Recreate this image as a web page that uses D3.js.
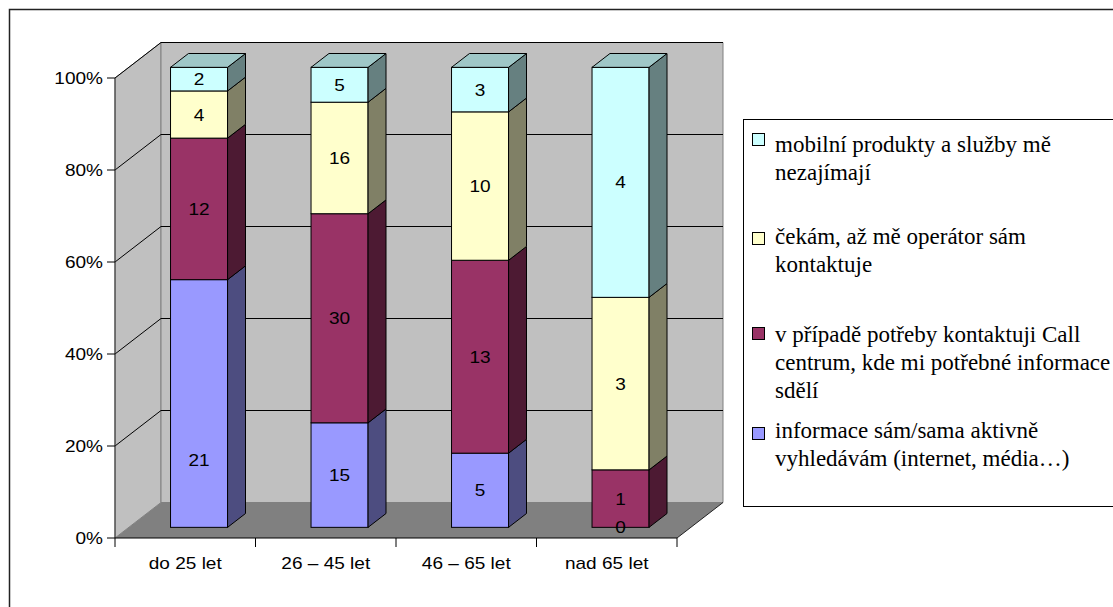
<!DOCTYPE html>
<html>
<head>
<meta charset="utf-8">
<script src="https://cdn.jsdelivr.net/npm/d3@7"></script>
<style>
  html, body { margin: 0; padding: 0; background: #fff; }
  svg { display: block; }
  .sans { font-family: "Liberation Sans", Arial, Helvetica, sans-serif; }
  .serif { font-family: "Times New Roman", "Liberation Serif", "DejaVu Serif", Times, serif; }
</style>
</head>
<body>
<svg id="chart" width="1113" height="607"></svg>
<script>
// Age groups on the category axis
const categories = ["do 25 let", "26 – 45 let", "46 – 65 let", "nad 65 let"];

// Respondent counts per answer, one array per series (stacked bottom to top)
const infoActive    = [21, 15, 5, 0];
const callCentre    = [12, 30, 13, 1];
const waiting       = [4, 16, 10, 3];
const notInterested = [2, 5, 3, 4];

const seriesNames = [
  "informace sám/sama aktivně vyhledávám (internet, média…)",
  "v případě potřeby kontaktuji Call centrum, kde mi potřebné informace sdělí",
  "čekám, až mě operátor sám kontaktuje",
  "mobilní produkty a služby mě nezajímají"
];

// Legend text broken into lines, legend order top to bottom
const legendLines = [
  ["mobilní produkty a služby mě", "nezajímají"],
  ["čekám, až mě operátor sám", "kontaktuje"],
  ["v případě potřeby kontaktuji Call", "centrum, kde mi potřebné informace", "sdělí"],
  ["informace sám/sama aktivně", "vyhledávám (internet, média…)"]
];

const tickValues = [0, 0.2, 0.4, 0.6, 0.8, 1];
const tickLabels = ["0%", "20%", "40%", "60%", "80%", "100%"];

// ---- styling / layout ----
const seriesData = [infoActive, callCentre, waiting, notInterested];
const faceColors = ["#9999FF", "#993366", "#FFFFCC", "#CCFFFF"];
const sideShade = 0.5, topShade = 0.78;
const shade = (c, k) => { const r = d3.rgb(c); return d3.rgb(r.r * k, r.g * k, r.b * k).formatHex(); };

const svg = d3.select("#chart");
const STRETCH = 1.12;

// outer chart frame
svg.append("rect").attr("x", 9.5).attr("y", 9.5).attr("width", 1200).attr("height", 700)
  .attr("fill", "#fff").attr("stroke", "#222").attr("stroke-width", 1.5);

// 3D plot geometry
const DX = 46, DY = -35.5;          // full depth offset of the plot box
const F0 = 0.30, F1 = 0.69;         // bar front / back depth fractions
const x = d3.scaleBand().domain(categories).range([115, 677]).padding(0);
const y = d3.scaleLinear().domain([0, 1]).range([538, 78]);
const barW = x.bandwidth() * 0.406;

const x0 = x.range()[0], x1 = x.range()[1];
const yTop = y(1), yBot = y(0);
const pts = a => a.map(p => p.join(",")).join(" ");

const plot = svg.append("g");

// side wall
plot.append("polygon")
  .attr("points", pts([[x0, yTop], [x0 + DX, yTop + DY], [x0 + DX, yBot + DY], [x0, yBot]]))
  .attr("fill", "#C0C0C0").attr("stroke", "#808080").attr("stroke-width", 1);
// back wall
plot.append("polygon")
  .attr("points", pts([[x0 + DX, yTop + DY], [x1 + DX, yTop + DY], [x1 + DX, yBot + DY], [x0 + DX, yBot + DY]]))
  .attr("fill", "#C0C0C0").attr("stroke", "#808080").attr("stroke-width", 1);
// floor
plot.append("polygon")
  .attr("points", pts([[x0, yBot], [x0 + DX, yBot + DY], [x1 + DX, yBot + DY], [x1, yBot]]))
  .attr("fill", "#808080");
plot.append("line").attr("x1", x1).attr("y1", yBot).attr("x2", x1 + DX).attr("y2", yBot + DY)
  .attr("stroke", "#222").attr("stroke-width", 1);

// gridlines on side and back wall
tickValues.filter(t => t > 0).forEach(t => {
  const yy = y(t);
  plot.append("polyline")
    .attr("points", pts([[x0, yy], [x0 + DX, yy + DY], [x1 + DX, yy + DY]]))
    .attr("fill", "none").attr("stroke", "#000").attr("stroke-width", 1);
});

// value axis
plot.append("line").attr("x1", x0).attr("y1", yTop).attr("x2", x0).attr("y2", yBot)
  .attr("stroke", "#333").attr("stroke-width", 1);
tickValues.forEach((t, i) => {
  plot.append("line").attr("x1", x0 - 8).attr("x2", x0).attr("y1", y(t)).attr("y2", y(t))
    .attr("stroke", "#000");
  plot.append("g").attr("transform", `translate(103,${y(t)}) scale(${STRETCH},1)`)
    .append("text").attr("class", "sans").attr("text-anchor", "end").attr("dy", "0.36em")
    .attr("font-size", 17).attr("fill", "#000")
    .text(tickLabels[i]);
});

// category axis
plot.append("line").attr("x1", x0).attr("x2", x1).attr("y1", yBot).attr("y2", yBot)
  .attr("stroke", "#000");
categories.concat([null]).forEach(c => {
  const xx = c === null ? x1 : x(c);
  plot.append("line").attr("x1", xx).attr("x2", xx).attr("y1", yBot).attr("y2", yBot + 9)
    .attr("stroke", "#000");
});
categories.forEach(c => {
  plot.append("g").attr("transform", `translate(${x(c) + x.bandwidth() / 2},569) scale(${STRETCH},1)`)
    .append("text").attr("class", "sans").attr("text-anchor", "middle")
    .attr("font-size", 17).attr("fill", "#000")
    .text(c);
});

// stacked 100% bars
const rows = categories.map((c, i) => {
  const r = { cat: c };
  seriesData.forEach((s, k) => r["s" + k] = s[i]);
  return r;
});
const keys = seriesData.map((s, k) => "s" + k);
const stacked = d3.stack().keys(keys).offset(d3.stackOffsetExpand)(rows);

const fdx = DX * F0, fdy = DY * F0;
const bdx = DX * (F1 - F0), bdy = DY * (F1 - F0);

// label nudges (category index, series index) -> dy
const labelNudge = { "0-0": 56 };

const bars = plot.append("g");
categories.forEach((c, ci) => {
  const bx = x(c) + x.bandwidth() / 2 - barW / 2 + fdx;
  const g = bars.append("g");
  stacked.forEach((layer, k) => {
    const d = layer[ci];
    const ya = y(d[0]) + fdy, yb = y(d[1]) + fdy;
    if (yb < ya) {
      g.append("rect").attr("x", bx).attr("y", yb).attr("width", barW).attr("height", ya - yb)
        .attr("fill", faceColors[k]).attr("stroke", "#000").attr("stroke-width", 1);
      g.append("polygon")
        .attr("points", pts([[bx + barW, ya], [bx + barW + bdx, ya + bdy], [bx + barW + bdx, yb + bdy], [bx + barW, yb]]))
        .attr("fill", shade(faceColors[k], sideShade)).attr("stroke", "#000").attr("stroke-width", 1)
        .attr("stroke-linejoin", "round");
      if (k === stacked.length - 1 || d[1] >= 1 - 1e-9) {
        g.append("polygon")
          .attr("points", pts([[bx, yb], [bx + bdx, yb + bdy], [bx + barW + bdx, yb + bdy], [bx + barW, yb]]))
          .attr("fill", shade(faceColors[k], topShade)).attr("stroke", "#000").attr("stroke-width", 1)
          .attr("stroke-linejoin", "round");
      }
    }
  });
  // data labels
  stacked.forEach((layer, k) => {
    const d = layer[ci];
    const val = seriesData[k][ci];
    const ya = y(d[0]) + fdy, yb = y(d[1]) + fdy;
    const cy = (ya + yb) / 2 + (labelNudge[ci + "-" + k] || 0);
    g.append("g").attr("transform", `translate(${bx + barW / 2},${cy}) scale(${STRETCH},1)`)
      .append("text").attr("class", "sans").attr("text-anchor", "middle").attr("dy", "0.36em")
      .attr("font-size", 17).attr("fill", "#000")
      .text(val);
  });
});

// legend
const legend = svg.append("g");
legend.append("rect").attr("x", 743.5).attr("y", 119.5).attr("width", 500).attr("height", 387)
  .attr("fill", "#fff").attr("stroke", "#000").attr("stroke-width", 1);
const legendBaselines = [152, 244, 342, 438];
const swatchTops = [133, 232, 327, 427];
const LINE_H = 28;
legendLines.forEach((lines, i) => {
  const k = seriesData.length - 1 - i;
  legend.append("rect").attr("x", 752.5).attr("y", swatchTops[i] + 0.5).attr("width", 12).attr("height", 12)
    .attr("fill", faceColors[k]).attr("stroke", "#000").attr("stroke-width", 1);
  const t = legend.append("text").attr("class", "serif").attr("font-size", 23).attr("fill", "#000");
  lines.forEach((ln, j) => {
    t.append("tspan").attr("x", 775).attr("y", legendBaselines[i] + j * LINE_H).text(ln);
  });
});
</script>
</body>
</html>
